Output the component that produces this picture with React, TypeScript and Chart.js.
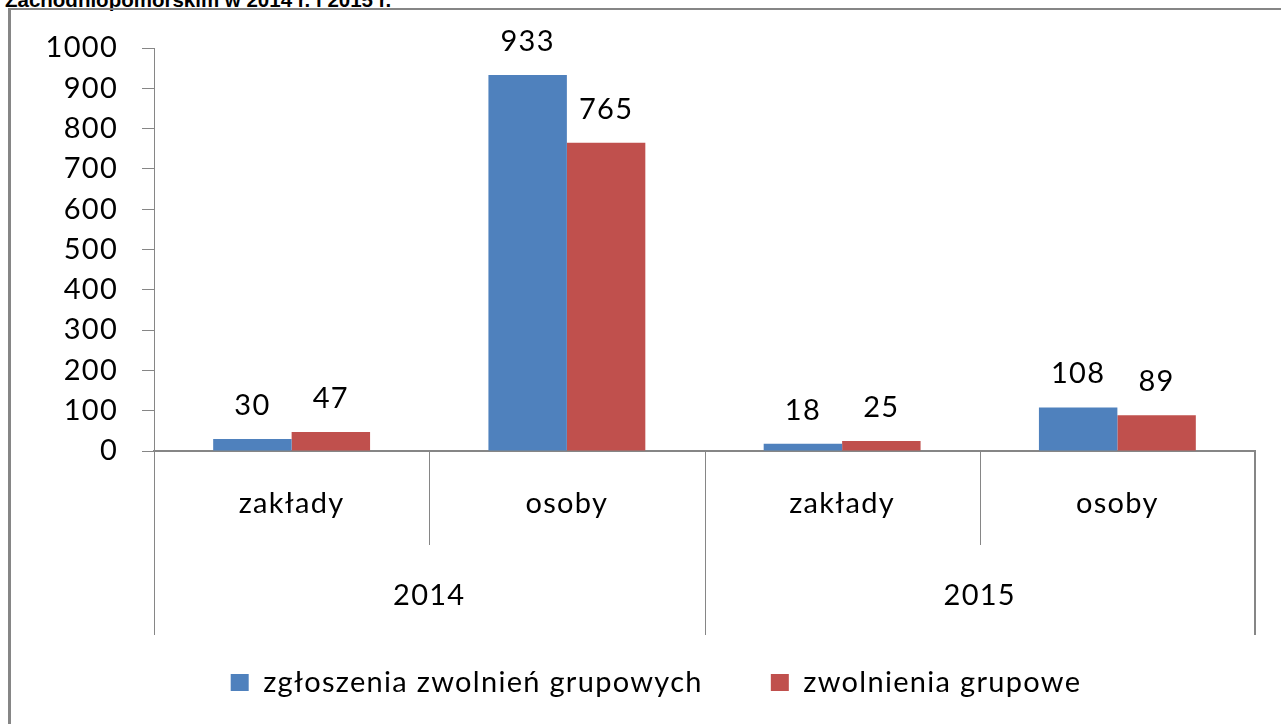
import React, { useEffect, useRef } from "react";
import { Chart, registerables } from "chart.js";

Chart.register(...registerables);

const categories = ["zakłady", "osoby", "zakłady", "osoby"];
const groups = ["2014", "2015"];
const seriesNames = ["zgłoszenia zwolnień grupowych", "zwolnienia grupowe"];
const zgloszenia = [30, 933, 18, 108];
const zwolnienia = [47, 765, 25, 89];
const yMin = 0;
const yMax = 1000;
const yStep = 100;
const titleText = "Zachodniopomorskim w 2014 r. i 2015 r.";

const BLUE = "#4F81BD";
const RED = "#C0504D";
const AXIS = "#868686";
const FONT = "Lato";
const SPACING = "1.3px";
const LEGEND_LEFT = 57;

const spacing = {
  id: "spacing",
  beforeLayout(chart: any) {
    chart.ctx.letterSpacing = SPACING;
  },
  afterLayout(chart: any) {
    if (chart.legend) {
      chart.legend.left = LEGEND_LEFT;
      chart.legend.width = chart.legend.right - LEGEND_LEFT;
    }
  },
  beforeDraw(chart: any) {
    chart.ctx.letterSpacing = SPACING;
  },
};

const dataLabels = {
  id: "dataLabels",
  afterDatasetsDraw(chart: any) {
    const ctx = chart.ctx;
    ctx.save();
    ctx.font = `29px ${FONT}`;
    ctx.fillStyle = "#000";
    ctx.textAlign = "center";
    ctx.textBaseline = "alphabetic";
    chart.data.datasets.forEach((ds: any, di: number) => {
      const meta = chart.getDatasetMeta(di);
      meta.data.forEach((el: any, i: number) => {
        ctx.fillText(String(ds.data[i]), el.x, el.y - 24);
      });
    });
    ctx.restore();
  },
};

const groupAxis = {
  id: "groupAxis",
  afterDraw(chart: any) {
    const ctx = chart.ctx;
    const xs = chart.scales.x;
    const top = chart.chartArea.bottom;
    const groupBottom = top + 184;
    const innerBottom = top + 94;
    const half = (xs.getPixelForValue(1) - xs.getPixelForValue(0)) / 2;
    const start = xs.getPixelForValue(0) - half;
    ctx.save();
    ctx.strokeStyle = AXIS;
    for (let i = 0; i <= categories.length; i++) {
      const bx = start + i * 2 * half;
      const isGroup = i % 2 === 0;
      const isLast = i === categories.length;
      ctx.lineWidth = isLast ? 2 : 1;
      const px = isLast ? Math.round(bx) : Math.round(bx) + 0.5;
      ctx.beginPath();
      ctx.moveTo(px, top);
      ctx.lineTo(px, isGroup ? groupBottom : innerBottom);
      ctx.stroke();
    }
    ctx.font = `29px ${FONT}`;
    ctx.fillStyle = "#000";
    ctx.textAlign = "center";
    ctx.textBaseline = "middle";
    groups.forEach((g, gi) => {
      const cx = start + (gi * 2 + 1) * 2 * half;
      ctx.fillText(g, cx, top + 145);
    });
    ctx.restore();
  },
};

export default function App() {
  const ref = useRef<HTMLCanvasElement | null>(null);

  useEffect(() => {
    let chart: any = null;
    let cancelled = false;
    const make = () => {
      if (cancelled || !ref.current) return;
      chart = new Chart(ref.current, {
        type: "bar",
        data: {
          labels: categories,
          datasets: [
            {
              label: seriesNames[0],
              data: zgloszenia,
              backgroundColor: BLUE,
              barPercentage: 1,
              categoryPercentage: 0.57,
            },
            {
              label: seriesNames[1],
              data: zwolnienia,
              backgroundColor: RED,
              barPercentage: 1,
              categoryPercentage: 0.57,
            },
          ],
        },
        options: {
          responsive: false,
          animation: false,
          layout: { padding: { left: 0, right: 26, top: 48, bottom: 17 } },
          plugins: {
            tooltip: { enabled: false },
            legend: {
              position: "bottom",
              labels: {
                boxWidth: 18,
                boxHeight: 17,
                padding: 68,
                color: "#000",
                font: { family: FONT, size: 29 },
              },
            },
          },
          scales: {
            x: {
              type: "category",
              grid: { display: false },
              border: { display: true, color: AXIS, width: 2 },
              ticks: {
                color: "#000",
                font: { family: FONT, size: 29 },
                padding: 27,
                maxRotation: 0,
                autoSkip: false,
              },
              afterFit(s: any) {
                s.height = 149;
              },
            },
            y: {
              min: yMin,
              max: yMax,
              ticks: {
                stepSize: yStep,
                color: "#000",
                font: { family: FONT, size: 29 },
                padding: 24,
                callback: (v: any) => String(v),
              },
              grid: {
                drawOnChartArea: false,
                drawTicks: true,
                tickLength: 12,
                color: AXIS,
              },
              border: { display: true, color: AXIS, width: 1 },
              afterFit(s: any) {
                s.width = 154;
              },
            },
          },
        },
        plugins: [spacing, dataLabels, groupAxis],
      } as any);
    };
    const fonts: any = (document as any).fonts;
    if (fonts && fonts.load) {
      fonts.load(`29px ${FONT}`).then(make, make);
    } else {
      make();
    }
    return () => {
      cancelled = true;
      if (chart) chart.destroy();
    };
  }, []);

  return (
    <div
      style={{
        position: "fixed",
        left: 0,
        top: 0,
        width: 1281,
        height: 724,
        overflow: "hidden",
        background: "#fff",
      }}
    >
      <div
        style={{
          position: "absolute",
          left: 5,
          top: -10,
          fontFamily: "'Liberation Sans', Arial, sans-serif",
          fontWeight: "bold",
          fontSize: 20.5,
          lineHeight: "20px",
          whiteSpace: "nowrap",
          color: "#000",
        }}
      >
        {titleText}
      </div>
      <div
        style={{
          position: "absolute",
          left: 8,
          top: 8,
          width: 2000,
          height: 2000,
          borderLeft: `3px solid ${AXIS}`,
          borderTop: `2px solid ${AXIS}`,
        }}
      />
      <canvas
        ref={ref}
        width={1281}
        height={724}
        style={{ position: "absolute", left: 0, top: 0, width: 1281, height: 724 }}
      />
    </div>
  );
}
